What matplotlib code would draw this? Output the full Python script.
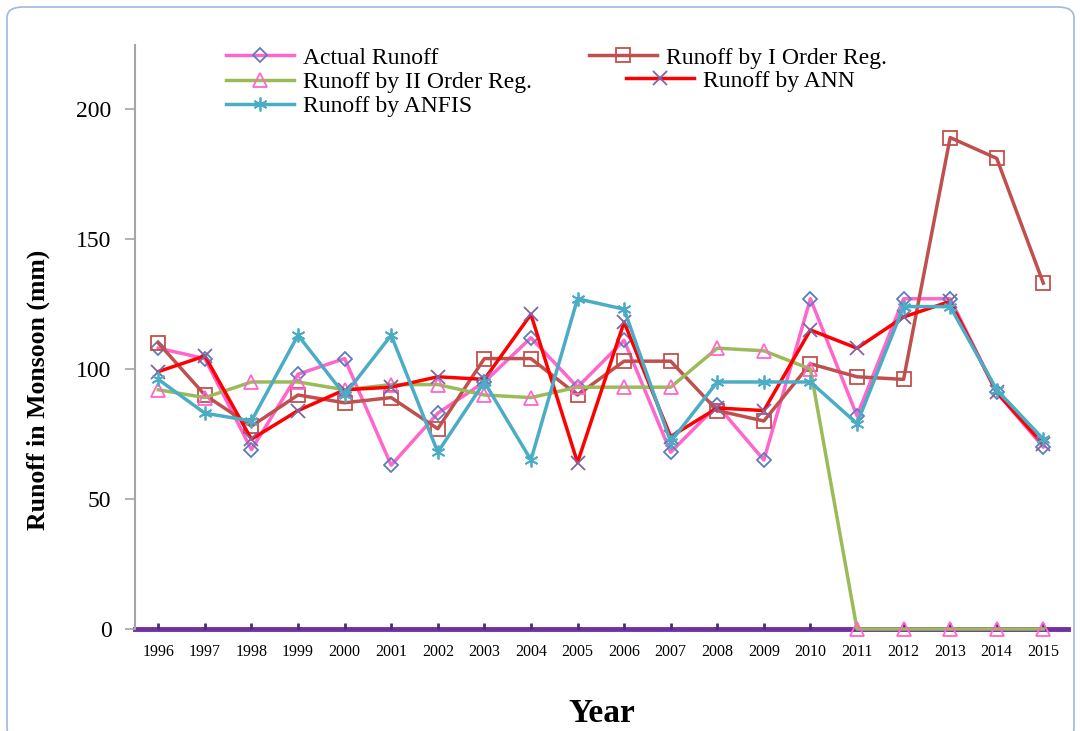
import matplotlib
matplotlib.use("Agg")
import matplotlib.pyplot as plt
from matplotlib.patches import FancyBboxPatch

years = list(range(1996, 2016))
actual = [108, 104, 69, 98, 104, 63, 83, 95, 112, 93, 111, 68, 86, 65, 127, 82, 127, 127, 91, 70]
first_order = [110, 90, 78, 90, 87, 89, 77, 104, 104, 90, 103, 103, 84, 80, 102, 97, 96, 189, 181, 133]
second_order = [92, 89, 95, 95, 92, 94, 94, 90, 89, 93, 93, 93, 108, 107, 100, 0, 0, 0, 0, 0]
ann = [99, 105, 73, 84, 92, 93, 97, 96, 121, 64, 118, 74, 85, 84, 115, 108, 120, 126, 91, 71]
anfis = [96, 83, 80, 113, 90, 113, 68, 95, 65, 127, 123, 72, 95, 95, 95, 79, 124, 124, 92, 73]
y_ticks = [0, 50, 100, 150, 200]

serif = "Liberation Serif"
W, H = 1080, 731
fig = plt.figure(figsize=(W / 100, H / 100), dpi=100)

# rounded frame around the whole chart
frame = FancyBboxPatch((7 / W, -8 / H), 1067 / W, (H - 7 + 8) / H,
                       boxstyle="round,pad=0,rounding_size=0.015",
                       transform=fig.transFigure, fill=False,
                       edgecolor="#9DB9DE", linewidth=1.2)
fig.patches.append(frame)

ax = fig.add_axes([135 / W, 1 - 629 / H, (1068 - 135) / W, (629 - 45) / H])

lw = 2.5
series = [
    ("Actual Runoff", actual, "#FF66CC", "D", "#5B7DC0", 7),
    ("Runoff by I Order Reg.", first_order, "#C0504D", "s", "#C0504D", 10),
    ("Runoff by II Order Reg.", second_order, "#9BBB59", "^", "#FF66CC", 10),
    ("Runoff by ANN", ann, "#FF0000", "x", "#8064A2", 10),
    ("Runoff by ANFIS", anfis, "#4BACC6", "*", "#4BACC6", 10),
]
handles = {}
for label, vals, col, mk, mcol, ms in series:
    if mk == "*":
        mk = (6, 2, 0)
    (h,) = ax.plot(years, vals, color=col, linewidth=lw, marker=mk,
                   markersize=ms, markerfacecolor="none", markeredgecolor=mcol,
                   markeredgewidth=1.3, clip_on=False, label=label)
    handles[label] = h

ax.set_xlim(1995.5, 2015.53)
ax.set_ylim(0, 224.6)
ax.set_yticks(y_ticks)
ax.set_yticklabels([str(v) for v in y_ticks], fontfamily=serif, fontsize=17)
ax.set_xticks(years)
ax.set_xticklabels([str(y) for y in years], fontfamily=serif, fontsize=11.5)

for s in ("top", "right"):
    ax.spines[s].set_visible(False)
ax.spines["left"].set_color("#A6A6A6")
ax.spines["left"].set_linewidth(1.5)
ax.spines["bottom"].set_color("#7030A0")
ax.spines["bottom"].set_linewidth(3.5)
ax.spines["bottom"].set_zorder(1)
ax.tick_params(axis="y", direction="out", length=7, width=1.2, color="#A6A6A6", pad=10)
ax.tick_params(axis="x", direction="in", length=4, width=2, color="#4B2A7A", pad=11)

fig.text(38 / W, 1 - 390 / H, "Runoff in Monsoon (mm)", rotation=90,
         ha="center", va="center", fontfamily=serif, fontweight="bold", fontsize=18.5)
fig.text(602 / W, 1 - 713 / H, "Year", ha="center", va="center",
         fontfamily=serif, fontweight="bold", fontsize=24)

leg_kw = dict(frameon=False, prop={"family": serif, "size": 17}, handlelength=2.9,
              handletextpad=0.35, labelspacing=0.12, borderpad=0, borderaxespad=0,
              bbox_transform=fig.transFigure)
left_labels = ["Actual Runoff", "Runoff by II Order Reg.", "Runoff by ANFIS"]
leg1 = ax.legend([handles[l] for l in left_labels], left_labels, loc="upper left",
                 bbox_to_anchor=(226 / W, 1 - 47 / H), **leg_kw)
ax.add_artist(leg1)
leg2 = ax.legend([handles["Runoff by I Order Reg."]], ["Runoff by I Order Reg."],
                 loc="upper left", bbox_to_anchor=(589 / W, 1 - 47 / H), **leg_kw)
ax.add_artist(leg2)
ax.legend([handles["Runoff by ANN"]], ["Runoff by ANN"], loc="upper left",
          bbox_to_anchor=(626 / W, 1 - 70 / H), **leg_kw)

fig.savefig("out.png", dpi=100)
